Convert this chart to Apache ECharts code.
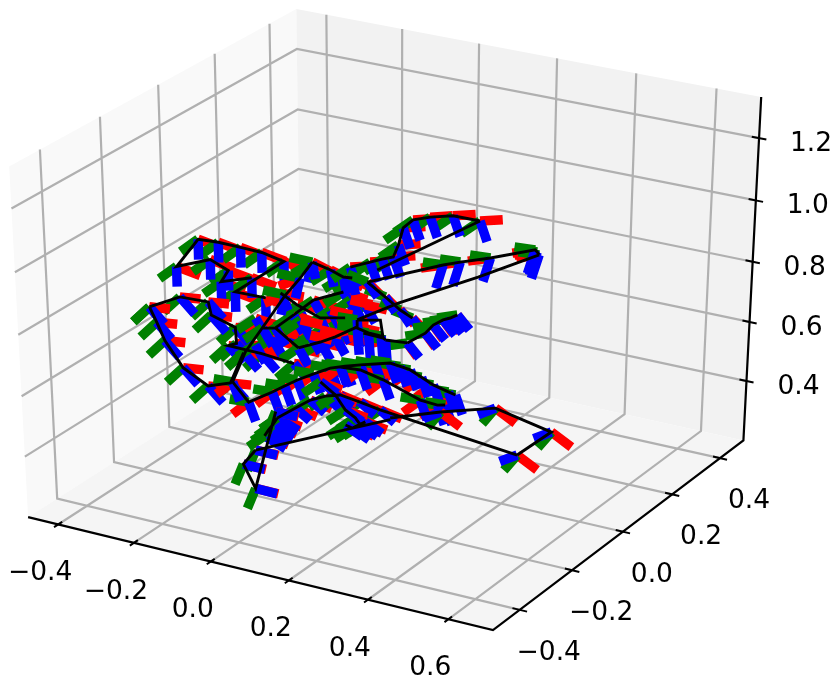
<!DOCTYPE html>
<html><head><meta charset="utf-8">
<style>html,body{margin:0;padding:0;background:#fff}#c{width:835px;height:683px}</style>
<script src="https://cdn.jsdelivr.net/npm/echarts@6/dist/echarts.min.js"></script>
</head><body><div id="c"></div>
<script>
// axis ticks and limits
const xTicks=[-0.4,-0.2,0.0,0.2,0.4,0.6];
const yTicks=[-0.4,-0.2,0.0,0.2,0.4];
const zTicks=[0.4,0.6,0.8,1.0,1.2];
const xLim=[-0.48,0.71], yLim=[-0.5,0.5], zLim=[0.196,1.33];

// pose frames: [red, green, blue] as [dx,dz]
const axesA=[[.061,-.0125],[-.046,-.052],[0,-.065]];
const axesC=[[.054,.008],[-.044,-.061],[.038,-.045]];
const axesE=[[-.044,-.0545],[-.051,-.004],[.018,-.0605]];
const axesF=[[.056,-.014],[-.044,-.051],[.038,-.032]];
const axesCorner=[[.051,-.035],[-.033,-.0615],[-.044,-.035]];
const axesLow=[[.059,0],[-.023,-.075],[.056,-.001]];
const axesG=[[.056,-.011],[-.046,-.052],[.044,-.027]];
const axesH=[[.064,-.012],[-.044,-.051],[.056,-.027]];
const axesJ=[[.061,-.009],[-.049,-.053],[.026,-.052]];
const axesK=[[-.056,-.042],[-.059,0],[-.013,-.069]];
const axesL=[[.051,-.019],[-.051,-.053],[.008,-.053]];
const axesM=[[.056,.019],[-.046,-.052],[.018,-.0605]];
const axesN=[[-.056,-.025],[-.051,-.004],[-.018,-.08]];
const axesP=[[.026,-.039],[-.051,-.024],[.031,-.0405]];
const axesP2=[[-.051,-.03],[-.051,-.004],[.005,-.087]];
const axesQ=[[.036,-.036],[-.051,.012],[.026,-.042]];
const axesR=[[.056,-.001],[-.046,-.052],[.026,-.052]];
const axesS=[[.061,.004],[-.038,-.043],[.02,-.053]];

// trajectories with poses: x values, y value, z values
const pathA_x=[-.100,-.179,-.160,-.206,-.294,-.236,-.184,-.127,-.073,-.017,-.143,-.065];
const pathA_z=[.918,.884,.925,.948,.902,1.005,1.009,1.008,1.006,.992,.861,.863];
const pathC_x=[-.369,-.288,-.214,-.207,-.145,-.143,-.164,-.078,.005];
const pathC_z=[.750,.805,.809,.768,.745,.693,.680,.678,.669];
const pathD_x=[-.369,-.351,-.331,-.285,-.220,-.161,-.125];
const pathD_z=[.750,.705,.650,.573,.531,.558,.668];
const pathE_x=[-.304,-.262,-.198,-.165,-.131,-.088,-.044,-.005,.035,.073,.112,.138,.164,.193,.223,.262,.280];
const pathE_z=[.402,.345,.398,.428,.458,.491,.523,.540,.556,.570,.584,.580,.576,.560,.543,.531,.526];
const pathI_x=[-.017,.035,.094,.190,.234,.254];
const pathI_z=[.534,.539,.523,.483,.479,.485];
const pathF_x=[-.186,-.137,-.097,-.057,-.018,.034,.086];
const pathF_z=[.313,.361,.400,.425,.440,.431,.420];
const pathCorner_x=[.439,.524,.382,.242];
const pathCorner_z=[.372,.474,.512,.458];
const pathLow_x=[-.062,-.095,-.064,-.008];
const pathLow_z=[.393,.336,.263,.537];
const pathG_x=[-.070,-.031,-.005,.021,.034,.047,.013,-.005];
const pathG_z=[.469,.436,.393,.374,.354,.368,.337,.342];
const pathH_x=[-.186,-.199,-.210,-.221];
const pathH_z=[.313,.285,.265,.241];
const pathJ_x=[-.221,-.187,-.139,-.086,-.008];
const pathJ_z=[.607,.617,.673,.737,.785];
const pathK_x=[-.088,-.120,-.159];
const pathK_z=[.861,.800,.734];
const pathL_x=[-.088,-.041,-.008,.015];
const pathL_z=[.861,.848,.834,.837];
const pathM_x=[.010,.061,.092,.120,.133,.145,.170,.213,.270,.337];
const pathM_z=[.871,.901,.919,.933,.975,1.033,1.065,1.085,1.104,1.105];
const pathN_x=[.246,.289,.364,.474,.479,.484];
const pathN_z=[.941,.962,.995,1.050,1.045,1.037];
const pathP_x=[.283,.265,.247,.222,.202,.156];
const pathP_z=[.790,.775,.764,.740,.708,.663];
const pathP2_x=[.100,.089,.056,.027,.027];
const pathP2_z=[.657,.667,.668,.676,.703];
const pathQ_x=[.054,.100,.138,.169];
const pathQ_z=[.834,.798,.766,.748];
const pathR_x=[-.127,-.069,-.030,.027];
const pathR_z=[.567,.603,.631,.680];
const pathS_x=[-.172,-.128,-.069,-.004];
const pathS_z=[.737,.709,.683,.701];
// poses in the dense middle whose connecting line is hidden by other marks
const poolU_x=[-.120,-.069,-.017,-.095,-.042,.010,.048];
const poolU_z=[.662,.643,.674,.619,.716,.764,.758];
const poolW_x=[-.241,-.196,-.148,-.239];
const poolW_z=[.545,.581,.621,.635];

const redLast=[1,2,0], greenLast=[0,2,1];
const posePaths=[
 [pathA_x,-0.2,pathA_z,axesA],[pathC_x,-0.2,pathC_z,axesC],[pathD_x,-0.2,pathD_z,axesC],
 [poolW_x,0,poolW_z,axesJ,false],
 [pathS_x,0,pathS_z,axesS],[pathJ_x,0,pathJ_z,axesJ],[pathK_x,0,pathK_z,axesK],[pathL_x,0,pathL_z,axesL],
 [pathR_x,0,pathR_z,axesR],[poolU_x,0,poolU_z,axesR,false,redLast],[pathM_x,0,pathM_z,axesM],[pathN_x,0,pathN_z,axesN],[pathQ_x,0,pathQ_z,axesQ],
 [pathP_x,0,pathP_z,axesP],[pathP2_x,0,pathP2_z,axesP2],[pathE_x,0,pathE_z,axesE],[pathI_x,0,pathI_z,axesE],
 [pathF_x,0,pathF_z,axesF],[pathG_x,0,pathG_z,axesG],[pathH_x,0,pathH_z,axesH,true,greenLast],
 [pathCorner_x,0,pathCorner_z,axesCorner],[pathLow_x,-0.25,pathLow_z,axesLow]
];
// connecting runs of the black trajectory, without poses
const links=[
 [[.086,.439],0,[.420,.372]],
 [[.242,.112],0,[.458,.400]],
 [[.284,-.062],-0.25,[.596,.393]],
 [[-.159,-.268,-.304],0,[.734,.514,.402]],
 [[.337,.079],0,[1.105,.880]],
 [[.054,.246],0,[.834,.941]],
 [[.484,.334,.133,.027],0,[1.037,.926,.787,.703]],
 [[.027,.087,.094,.043],0,[.703,.719,.662,.664]],
 [[.156,.100],0,[.663,.657]],
 [[-.187,-.127],0,[.617,.567]]
];

// mplot3d style projection (elev 30, azim -60, dist 10) onto the page axes
const K={kx:5366,ky:4005,x0:391.3,y0:309};
function project(x,y,z){
  const qx=(x-xLim[0])/(xLim[1]-xLim[0])-.5, qy=(y-yLim[0])/(yLim[1]-yLim[0])-.5, qz=(z-zLim[0])/(zLim[1]-zLim[0])-.5;
  const xv=.8660254*qx+.5*qy, yv=-.25*qx+.4330127*qy+.8660254*qz;
  const d=10-(.4330127*qx-.75*qy+.5*qz);
  return [K.x0+K.kx*xv/d, K.y0-K.ky*yv/d];
}
const [x0,x1]=xLim,[y0,y1]=yLim,[z0,z1]=zLim;
const panes=[[[x0,y0,z0],[x0,y1,z0],[x0,y1,z1],[x0,y0,z1]],[[x0,y1,z0],[x1,y1,z0],[x1,y1,z1],[x0,y1,z1]],[[x0,y0,z0],[x1,y0,z0],[x1,y1,z0],[x0,y1,z0]]];
const paneColors=['#f9f9f9','#f2f2f2','#f5f5f5'];

const GAP=['-','-'];
function polyData(list){const o=[];list.forEach(run=>{run.forEach(p=>o.push(project(p[0],p[1],p[2])));o.push(GAP);});return o;}
function lineSeries(data,color,width){return {type:'line',data,symbol:'none',showSymbol:false,silent:true,animation:false,clip:false,connectNulls:false,
  lineStyle:{color,width,cap:'butt',join:'miter'},emphasis:{disabled:true}};}

const grid=[];
xTicks.forEach(v=>grid.push([[v,y0,z0],[v,y1,z0],[v,y1,z1]]));
yTicks.forEach(v=>grid.push([[x1,v,z0],[x0,v,z0],[x0,v,z1]]));
zTicks.forEach(v=>grid.push([[x0,y0,v],[x0,y1,v],[x1,y1,v]]));
const tickMarks=[];
xTicks.forEach(v=>tickMarks.push([[v,y0-.014,z0],[v,y0+.014,z0]]));
yTicks.forEach(v=>tickMarks.push([[x1-.018,v,z0],[x1+.018,v,z0]]));
zTicks.forEach(v=>tickMarks.push([[x1-.018,y1,v],[x1+.018,y1,v]]));
const axisLines=[[[x0,y0,z0],[x1,y0,z0],[x1,y1,z0],[x1,y1,z1]]];

const labels=[];
const fmt=v=>(v<0?'\u2212':'')+Math.abs(v).toFixed(1);
xTicks.forEach(v=>labels.push([...project(v,y0,z0),fmt(v),-18,49]));
yTicks.forEach(v=>labels.push([...project(x1,v,z0),fmt(v),29,43]));
zTicks.forEach(v=>labels.push([...project(x1,y1,v),fmt(v),52,6]));

const series=[];
series.push({type:'custom',silent:true,animation:false,clip:false,coordinateSystem:'cartesian2d',data:panes.map((p,i)=>[i,i]),
  renderItem(params,api){const i=api.value(0);return {type:'polygon',shape:{points:panes[i].map(c=>api.coord(project(c[0],c[1],c[2])))},style:{fill:paneColors[i]}};}});
series.push(lineSeries(polyData(grid),'#b0b0b0',2.2));
series.push(lineSeries(polyData(axisLines),'#000',2.2));
series.push(lineSeries(polyData(tickMarks),'#000',2));
series.push({type:'custom',silent:true,animation:false,clip:false,coordinateSystem:'cartesian2d',data:labels.map(l=>[l[0],l[1]]),
  renderItem(params,api){const l=labels[params.dataIndex];const c=api.coord([l[0],l[1]]);
   return {type:'text',x:c[0]+l[3],y:c[1]+l[4],style:{text:l[2],fill:'#000',font:'26.5px "DejaVu Sans"',textAlign:'center',textVerticalAlign:'middle'}};}});
const colors=['#ff0000','#008000','#0000ff'];
posePaths.forEach(([xs,y,zs,axes,hasLine,order])=>{
  (order||[0,1,2]).forEach(k=>{
    const a=axes[k];
    const runs=xs.map((x,i)=>[[x,y,zs[i]],[x+a[0],y,zs[i]+a[1]]]);
    series.push(lineSeries(polyData(runs),colors[k],9.5));
  });
});
const blackRuns=posePaths.filter(p=>p[4]!==false).map(([xs,y,zs])=>xs.map((x,i)=>[x,y,zs[i]])).concat(links.map(([xs,y,zs])=>xs.map((x,i)=>[x,y,zs[i]])));
series.push(lineSeries(polyData(blackRuns),'#000',2.9));

const chart=echarts.init(document.getElementById('c'),null,{renderer:'canvas'});
chart.setOption({backgroundColor:'#fff',animation:false,tooltip:{show:false},legend:{show:false},
  grid:{left:0,right:0,top:0,bottom:0,containLabel:false},
  xAxis:{type:'value',min:0,max:835,show:false},
  yAxis:{type:'value',min:0,max:683,inverse:true,show:false},
  series});
</script></body></html>
